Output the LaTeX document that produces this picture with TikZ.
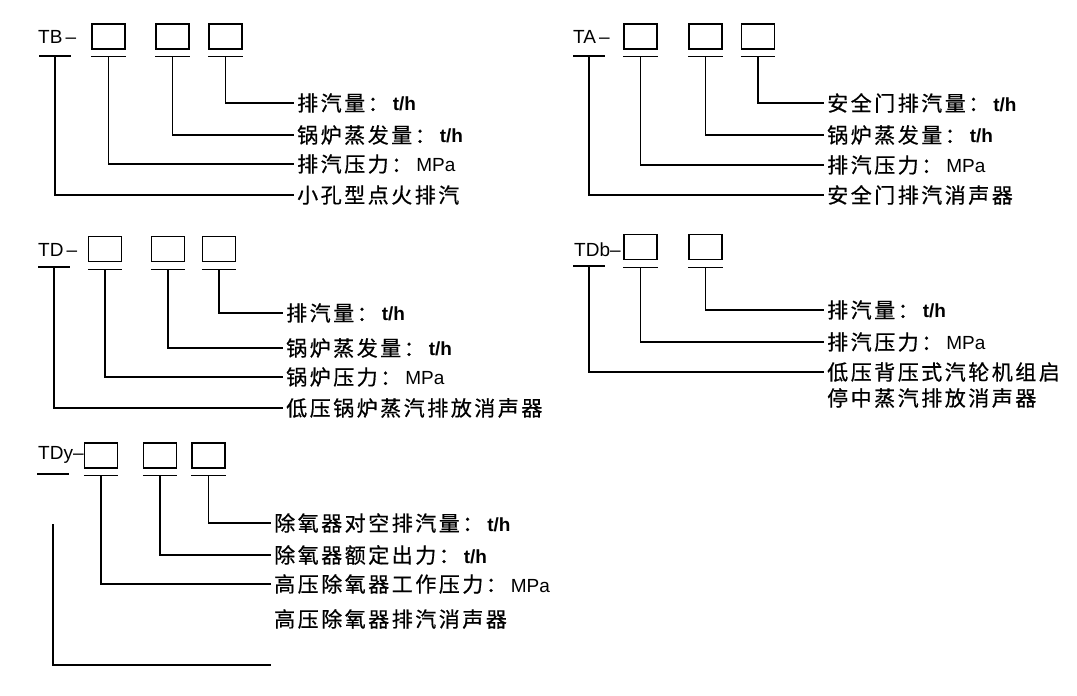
\documentclass[tikz,border=0pt]{standalone}
\usepackage{fontspec}
\setmainfont{Liberation Sans}
\newfontfamily\cjk[LetterSpace=12,FakeBold=0.6]{Noto Sans CJK SC}
\usetikzlibrary{calc}
\newcommand\zh[1]{{\cjk\fontsize{21}{25}\selectfont #1}}
\newcommand\tph{\hspace{4pt}{\fontsize{19}{23}\selectfont\bfseries t/h}}
\newcommand\mpa{\hspace{4pt}{\fontsize{19}{23}\selectfont MPa}}
\tikzset{
  ln/.style={line width=1.2pt,black},
  bx/.style={draw,line width=1.3pt,minimum width=33pt,minimum height=25pt,inner sep=0pt},
  lbl/.style={anchor=west,inner xsep=3pt,inner ysep=0pt},
  codetxt/.style={anchor=west,inner sep=0pt,font=\fontsize{19}{23}\selectfont},
}
\newcommand\boxu[3]{%
  \node[bx] (#1) at (#2,#3) {};
  \coordinate (#1u) at ($(#1.south)+(0,7)$);
  \draw[ln] ($(#1.south west)+(0,7)$) -- ($(#1.south east)+(0,7)$);
}
\newcommand\codeu[6]{% name, x, y, text, underline mid x, underline y
  \node[codetxt] (#1) at (#2,#3) {#4};
  \coordinate (#1u) at (#5,#6);
  \draw[ln] ($(#1u)+(-16,0)$) -- ($(#1u)+(16,0)$);
}
\begin{document}
\begin{tikzpicture}[x=1pt,y=-1pt]
\useasboundingbox[fill=white] (0,0) rectangle (1077,696);

% ---------- TB block ----------
\codeu{tb}{38}{37}{TB\,–}{55}{56}
\boxu{tb1}{108.5}{36.5}
\boxu{tb2}{172.5}{36.5}
\boxu{tb3}{225.5}{36.5}
\node[lbl] (tbl3) at (294,103) {\zh{排汽量：}\tph};
\node[lbl] (tbl2) at (294,135) {\zh{锅炉蒸发量：}\tph};
\node[lbl] (tbl1) at (294,164) {\zh{排汽压力：}\mpa};
\node[lbl] (tbl0) at (294,195) {\zh{小孔型点火排汽}};
\draw[ln] (tb3u) |- (tbl3.west);
\draw[ln] (tb2u) |- (tbl2.west);
\draw[ln] (tb1u) |- (tbl1.west);
\draw[ln] (tbu) |- (tbl0.west);

% ---------- TA block ----------
\codeu{ta}{573}{37}{TA\,–}{589}{56}
\boxu{ta1}{640.5}{36.5}
\boxu{ta2}{705.5}{36.5}
\boxu{ta3}{758}{36.5}
\node[lbl] (tal3) at (824,103) {\zh{安全门排汽量：}\tph};
\node[lbl] (tal2) at (824,135) {\zh{锅炉蒸发量：}\tph};
\node[lbl] (tal1) at (824,165) {\zh{排汽压力：}\mpa};
\node[lbl] (tal0) at (824,195) {\zh{安全门排汽消声器}};
\draw[ln] (ta3u) |- (tal3.west);
\draw[ln] (ta2u) |- (tal2.west);
\draw[ln] (ta1u) |- (tal1.west);
\draw[ln] (tau) |- (tal0.west);

% ---------- TD block ----------
\codeu{td}{38}{250}{TD\,–}{54}{267}
\boxu{td1}{105}{249}
\boxu{td2}{168}{249}
\boxu{td3}{219}{249}
\node[lbl] (tdl3) at (283,313) {\zh{排汽量：}\tph};
\node[lbl] (tdl2) at (283,348) {\zh{锅炉蒸发量：}\tph};
\node[lbl] (tdl1) at (283,377) {\zh{锅炉压力：}\mpa};
\node[lbl] (tdl0) at (283,408) {\zh{低压锅炉蒸汽排放消声器}};
\draw[ln] (td3u) |- (tdl3.west);
\draw[ln] (td2u) |- (tdl2.west);
\draw[ln] (td1u) |- (tdl1.west);
\draw[ln] (tdu) |- (tdl0.west);

% ---------- TDb block ----------
\codeu{tdb}{574}{250}{TDb–}{589}{266}
\boxu{tdb1}{640.5}{247}
\boxu{tdb2}{705.5}{247}
\node[lbl] (tdbl2) at (824,310) {\zh{排汽量：}\tph};
\node[lbl] (tdbl1) at (824,342) {\zh{排汽压力：}\mpa};
\node[lbl] (tdbl0) at (824,372) {\zh{低压背压式汽轮机组启}};
\node[lbl] (tdbl0b) at (824,398) {\zh{停中蒸汽排放消声器}};
\draw[ln] (tdb2u) |- (tdbl2.west);
\draw[ln] (tdb1u) |- (tdbl1.west);
\draw[ln] (tdbu) |- (tdbl0.west);

% ---------- TDy block ----------
\codeu{tdy}{38}{455}{TDy–}{53}{474}
\boxu{tdy1}{101}{455.5}
\boxu{tdy2}{160}{455.5}
\boxu{tdy3}{208.5}{455.5}
\node[lbl] (tdyl3) at (271,523) {\zh{除氧器对空排汽量：}\tph};
\node[lbl] (tdyl2) at (271,555) {\zh{除氧器额定出力：}\tph};
\node[lbl] (tdyl1) at (271,584) {\zh{高压除氧器工作压力：}\mpa};
\node[lbl] (tdyl0) at (271,619) {\zh{高压除氧器排汽消声器}};
\coordinate (tdytop) at (53,524);
\coordinate (tdyend) at (271,665);
\draw[ln] (tdy3u) |- (tdyl3.west);
\draw[ln] (tdy2u) |- (tdyl2.west);
\draw[ln] (tdy1u) |- (tdyl1.west);
\draw[ln] (tdytop) |- (tdyend);
\end{tikzpicture}
\end{document}
